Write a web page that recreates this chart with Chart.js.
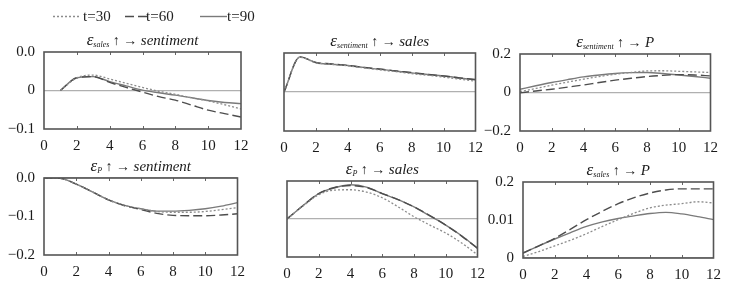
<!DOCTYPE html>
<html>
<head>
<meta charset="utf-8">
<script src="https://cdn.jsdelivr.net/npm/chart.js@4/dist/chart.umd.min.js"></script>
<style>
body { margin: 0; background: #fff; width: 734px; height: 293px; position: relative; overflow: hidden; font-family: "Liberation Serif", serif; }
canvas { position: absolute; }
</style>
</head>
<body>
<canvas id="p1"></canvas>
<canvas id="p2"></canvas>
<canvas id="p3"></canvas>
<canvas id="p4"></canvas>
<canvas id="p5"></canvas>
<canvas id="p6"></canvas>
<script>
const steps = [0, 1, 2, 3, 4, 5, 6, 7, 8, 9, 10, 11, 12];
const xTickValues = [0, 2, 4, 6, 8, 10, 12];
const seriesNames = ['t=30', 't=60', 't=90'];

// eps_sales -> sentiment
const salesSent30 = [null, 0, 0.033, 0.040, 0.030, 0.019, 0.008, -0.002, -0.010, -0.019, -0.027, -0.037, -0.048];
const salesSent60 = [null, 0, 0.033, 0.036, 0.021, 0.008, -0.004, -0.016, -0.025, -0.038, -0.051, -0.060, -0.069];
const salesSent90 = [null, 0, 0.033, 0.036, 0.023, 0.012, 0.001, -0.006, -0.012, -0.019, -0.026, -0.031, -0.034];
const salesSentTicks = ['−0.1', '0', '0.0'];

// eps_sentiment -> sales
const sentSales30 = [0, 0.89, 0.75, 0.71, 0.67, 0.62, 0.57, 0.52, 0.47, 0.43, 0.38, 0.33, 0.28];
const sentSales60 = [0, 0.90, 0.76, 0.72, 0.68, 0.63, 0.59, 0.54, 0.50, 0.45, 0.41, 0.36, 0.32];
const sentSales90 = [0, 0.90, 0.75, 0.71, 0.68, 0.63, 0.58, 0.54, 0.49, 0.45, 0.41, 0.36, 0.31];

// eps_sentiment -> P
const sentP30 = [0.005, 0.021, 0.038, 0.054, 0.069, 0.083, 0.095, 0.104, 0.112, 0.113, 0.110, 0.107, 0.104];
const sentP60 = [-0.002, 0.008, 0.017, 0.028, 0.039, 0.052, 0.064, 0.074, 0.083, 0.089, 0.093, 0.091, 0.086];
const sentP90 = [0.017, 0.035, 0.052, 0.067, 0.081, 0.091, 0.099, 0.103, 0.104, 0.099, 0.091, 0.083, 0.074];
const sentPTicks = ['−0.2', '0', '0.2'];

// eps_P -> sentiment
const pSent30 = [0, -0.001, -0.016, -0.036, -0.057, -0.071, -0.080, -0.087, -0.089, -0.089, -0.087, -0.082, -0.077];
const pSent60 = [0, -0.001, -0.016, -0.036, -0.057, -0.072, -0.082, -0.092, -0.097, -0.098, -0.098, -0.096, -0.093];
const pSent90 = [0, -0.001, -0.016, -0.036, -0.057, -0.071, -0.080, -0.086, -0.086, -0.084, -0.080, -0.073, -0.064];
const pSentTicks = ['−0.2', '−0.1', '0.0'];

// eps_P -> sales
const pSales30 = [0, 0.34, 0.64, 0.76, 0.77, 0.71, 0.56, 0.32, 0.06, -0.16, -0.37, -0.63, -0.94];
const pSales60 = [0, 0.35, 0.67, 0.83, 0.88, 0.83, 0.67, 0.51, 0.32, 0.09, -0.16, -0.45, -0.77];
const pSales90 = [0, 0.35, 0.67, 0.82, 0.90, 0.84, 0.67, 0.51, 0.32, 0.08, -0.16, -0.44, -0.77];

// eps_sales -> P
const salesP30 = [0.0004, 0.0017, 0.0032, 0.0047, 0.0064, 0.0083, 0.0101, 0.0118, 0.0132, 0.0139, 0.0143, 0.0148, 0.0145];
const salesP60 = [0.0013, 0.0032, 0.0052, 0.0076, 0.0101, 0.0123, 0.0143, 0.0159, 0.0171, 0.0179, 0.0182, 0.0182, 0.0182];
const salesP90 = [0.0013, 0.0032, 0.0050, 0.0067, 0.0083, 0.0095, 0.0104, 0.0111, 0.0117, 0.0120, 0.0116, 0.0109, 0.0101];
const salesPTicks = ['0', '0.01', '0.2'];

const SERIF = '"Liberation Serif", "Times New Roman", serif';

const lineStyles = [
    {borderColor: '#8c8c8c', borderDash: [2, 2], borderWidth: 1.3},
    {borderColor: '#4d4d4d', borderDash: [9, 4], borderWidth: 1.4},
    {borderColor: '#7a7a7a', borderDash: [], borderWidth: 1.4},
];

const panels = [
    {id: 'p1', left: 0, top: 0, padTop: 52, padRight: 20, w: 197, h: 77, sub: 'sales', target: 'sentiment',
        series: [salesSent30, salesSent60, salesSent90], yMin: -0.1, yMax: 0.1, yLabels: salesSentTicks, legend: true},
    {id: 'p2', left: 240, top: 23, padTop: 30, padRight: 12, w: 195, h: 78, sub: 'sentiment', target: 'sales',
        series: [sentSales30, sentSales60, sentSales90], yMin: -1, yMax: 1, yLabels: null},
    {id: 'p3', left: 476, top: 24, padTop: 30, padRight: 12, w: 194, h: 77, sub: 'sentiment', target: 'P',
        series: [sentP30, sentP60, sentP90], yMin: -0.2, yMax: 0.2, yLabels: sentPTicks},
    {id: 'p4', left: 0, top: 148, padTop: 30, padRight: 12, w: 197, h: 77, sub: 'P', target: 'sentiment',
        series: [pSent30, pSent60, pSent90], yMin: -0.2, yMax: 0, yLabels: pSentTicks},
    {id: 'p5', left: 243, top: 151, padTop: 30, padRight: 12, w: 194, h: 76, sub: 'P', target: 'sales',
        series: [pSales30, pSales60, pSales90], yMin: -1, yMax: 1, yLabels: null},
    {id: 'p6', left: 479, top: 152, padTop: 30, padRight: 12, w: 194, h: 76, sub: 'sales', target: 'P',
        series: [salesP30, salesP60, salesP90], yMin: 0, yMax: 0.02, yLabels: salesPTicks},
];

const panelDecor = {
    id: 'panelDecor',
    beforeDatasetsDraw(chart) {
        // small inward tick marks on top and bottom edges
        const {ctx, chartArea: a, scales} = chart;
        ctx.save();
        ctx.strokeStyle = '#666';
        ctx.lineWidth = 1;
        xTickValues.slice(1, -1).forEach(v => {
            const x = Math.round(scales.x.getPixelForValue(v)) + 0.5;
            ctx.beginPath();
            ctx.moveTo(x, a.bottom); ctx.lineTo(x, a.bottom - 3);
            ctx.moveTo(x, a.top); ctx.lineTo(x, a.top + 3);
            ctx.stroke();
        });
        ctx.restore();
    },
    afterDraw(chart, args, opts) {
        const {ctx, chartArea: a} = chart;
        ctx.save();
        ctx.strokeStyle = '#555';
        ctx.lineWidth = 1.6;
        ctx.strokeRect(a.left, a.top, a.right - a.left, a.bottom - a.top);

        // title: eps_sub ↑ → target
        const parts = [
            {t: 'ε', f: 'italic 17px ' + SERIF, dy: 0},
            {t: opts.sub, f: 'italic 8px ' + SERIF, dy: 2},
            {t: ' ↑ → ', f: '14px ' + SERIF, dy: 0},
            {t: opts.target, f: 'italic 15px ' + SERIF, dy: 0},
        ];
        let total = 0;
        parts.forEach(p => { ctx.font = p.f; p.w = ctx.measureText(p.t).width; total += p.w; });
        let x = (a.left + a.right) / 2 - total / 2;
        const base = a.top - 7;
        ctx.fillStyle = '#1a1a1a';
        ctx.textBaseline = 'alphabetic';
        parts.forEach(p => { ctx.font = p.f; ctx.fillText(p.t, x, base + p.dy); x += p.w; });

        if (opts.legend) {
            const spots = [[53, 80, 83], [125, 149, 146], [200, 227, 227]];
            const y = 16.5;
            ctx.font = '15px ' + SERIF;
            ctx.textBaseline = 'middle';
            spots.forEach((s, i) => {
                const st = lineStyles[i];
                ctx.strokeStyle = st.borderColor;
                ctx.lineWidth = st.borderWidth;
                ctx.setLineDash(st.borderDash);
                ctx.beginPath(); ctx.moveTo(s[0], y); ctx.lineTo(s[1], y); ctx.stroke();
                ctx.setLineDash([]);
                ctx.fillStyle = '#222';
                ctx.fillText(seriesNames[i], s[2], y + 1);
            });
        }
        ctx.restore();
    }
};

const drawAll = () => {
    panels.forEach(p => {
        const canvas = document.getElementById(p.id);
        canvas.width = 44 + p.w + p.padRight;
        canvas.height = p.padTop + p.h + 24;
        canvas.style.left = p.left + 'px';
        canvas.style.top = p.top + 'px';
        const yVals = [p.yMin, (p.yMin + p.yMax) / 2, p.yMax];

        new Chart(canvas.getContext('2d'), {
            type: 'line',
            data: {
                datasets: p.series.map((vals, i) => ({
                    label: seriesNames[i],
                    data: steps.map((t, k) => ({x: t, y: vals[k]})),
                    ...lineStyles[i],
                    fill: false,
                    pointRadius: 0,
                    tension: 0.3,
                    cubicInterpolationMode: 'monotone',
                })),
            },
            options: {
                responsive: false,
                animation: false,
                events: [],
                layout: {padding: {top: p.padTop, right: p.padRight, left: 0, bottom: 0}},
                plugins: {
                    legend: {display: false},
                    tooltip: {enabled: false},
                    panelDecor: {sub: p.sub, target: p.target, legend: !!p.legend},
                },
                scales: {
                    x: {
                        type: 'linear', min: 0, max: 12,
                        afterBuildTicks: s => { s.ticks = xTickValues.map(v => ({value: v})); },
                        afterFit: s => { s.height = 24; },
                        grid: {display: false, drawTicks: false},
                        border: {display: false},
                        ticks: {padding: 8, color: '#1a1a1a', font: {family: SERIF, size: 15}, maxRotation: 0,
                            callback: v => String(v)},
                    },
                    y: {
                        type: 'linear', min: p.yMin, max: p.yMax,
                        afterBuildTicks: s => { s.ticks = yVals.map(v => ({value: v})); },
                        afterFit: s => { s.width = 44; },
                        grid: {drawTicks: false, lineWidth: 1.2,
                            color: c => (Math.abs(c.tick.value) < 1e-9 ? '#b0b0b0' : 'rgba(0,0,0,0)')},
                        border: {display: false},
                        ticks: {padding: 9, color: '#1a1a1a', font: {family: SERIF, size: 15},
                            callback: (v, i) => (p.yLabels ? p.yLabels[i] : '')},
                    },
                },
            },
            plugins: [panelDecor],
        });
    });
};

Promise.all([
    document.fonts.load('15px "Liberation Serif"'),
    document.fonts.load('italic 15px "Liberation Serif"'),
]).catch(() => {}).then(drawAll);
</script>
</body>
</html>
